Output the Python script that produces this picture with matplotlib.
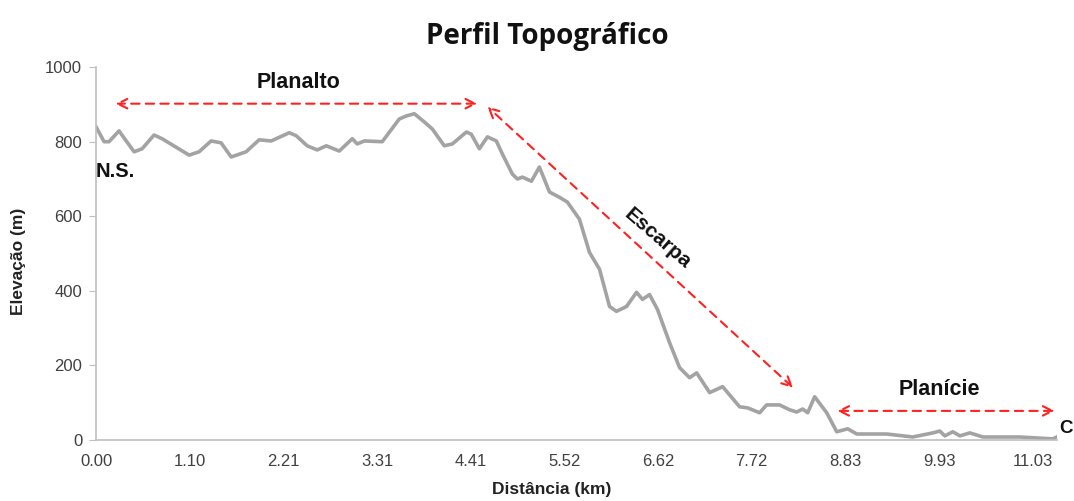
import matplotlib
matplotlib.use("Agg")
import matplotlib.pyplot as plt

distance_km = [0.000, 0.095, 0.153, 0.271, 0.448, 0.543, 0.684, 0.778, 1.097, 1.214,
               1.355, 1.473, 1.592, 1.768, 1.921, 2.063, 2.276, 2.358, 2.487, 2.605,
               2.712, 2.865, 3.018, 3.077, 3.160, 3.371, 3.572, 3.654, 3.749, 3.867,
               3.961, 4.102, 4.197, 4.362, 4.420, 4.515, 4.610, 4.715, 4.786, 4.904,
               4.963, 5.022, 5.128, 5.222, 5.341, 5.458, 5.552, 5.694, 5.812, 5.930,
               6.048, 6.130, 6.248, 6.366, 6.436, 6.519, 6.613, 6.755, 6.873, 6.991,
               7.074, 7.227, 7.380, 7.580, 7.675, 7.816, 7.898, 8.051, 8.169, 8.252,
               8.323, 8.382, 8.464, 8.606, 8.724, 8.853, 8.960, 9.313, 9.619, 9.856,
               9.938, 9.997, 10.091, 10.174, 10.292, 10.445, 10.881, 11.270, 11.316]
elevation_m = [840, 800, 800, 829, 773, 781, 818, 808, 764, 773,
               802, 797, 759, 773, 805, 802, 824, 816, 789, 778,
               789, 775, 808, 794, 802, 800, 861, 869, 875, 853,
               834, 789, 794, 826, 820, 781, 813, 802, 767, 713,
               700, 705, 694, 732, 665, 651, 638, 592, 503, 458,
               358, 345, 358, 396, 377, 390, 350, 261, 194, 167,
               180, 127, 143, 89, 86, 73, 94, 94, 81, 75,
               83, 73, 116, 73, 22, 30, 16, 16, 8, 19,
               24, 11, 22, 11, 19, 8, 8, 3, 8]

x_tick_values = [0.00, 1.10, 2.21, 3.31, 4.41, 5.52, 6.62, 7.72, 8.83, 9.93, 11.03]
x_tick_labels = ["0.00", "1.10", "2.21", "3.31", "4.41", "5.52", "6.62", "7.72", "8.83", "9.93", "11.03"]
y_tick_values = [0, 200, 400, 600, 800, 1000]

title = "Perfil Topográfico"
x_label = "Distância (km)"
y_label = "Elevação (m)"

plt.rcParams['font.family'] = ['Liberation Sans', 'DejaVu Sans']

fig = plt.figure(figsize=(10.74, 5.01), dpi=100)
ax = fig.add_axes([0.0894, 0.1218, 0.8946, 0.7442])

ax.plot(distance_km, elevation_m, color="#a3a3a3", linewidth=2.6, solid_joinstyle="round")

ax.set_xlim(0, distance_km[-1])
ax.set_ylim(0, 1000)
ax.set_xticks(x_tick_values)
ax.set_xticklabels(x_tick_labels)
ax.set_yticks(y_tick_values)

for s in ["top", "right"]:
    ax.spines[s].set_visible(False)
for s in ["left", "bottom"]:
    ax.spines[s].set_color("#bfbfbf")
    ax.spines[s].set_linewidth(1.2)

ax.tick_params(axis="x", length=0, pad=10, labelsize=12, labelcolor="#404040")
ax.tick_params(axis="y", length=5, color="#bfbfbf", pad=5, labelsize=12, labelcolor="#404040")

ax.set_xlabel(x_label, fontsize=12.5, fontweight="bold", color="#222222")
ax.set_ylabel(y_label, fontsize=12.5, fontweight="bold", color="#222222")
ax.xaxis.set_label_coords(0.474, -0.112)
ax.yaxis.set_label_coords(-0.073, 0.48)

fig.text(0.510, 0.928, title, ha="center", va="center", fontsize=20,
         fontweight="bold", family=["Open Sans", "DejaVu Sans"], color="#111111")

arrow_kw = dict(arrowstyle="<->", color="#ff2020", lw=1.5, linestyle=(0, (4, 3)),
                mutation_scale=17, shrinkA=0, shrinkB=0)

# Planalto
ax.annotate("", xy=(0.23, 902), xytext=(4.49, 902), arrowprops=arrow_kw)
ax.text(2.39, 958, "Planalto", ha="center", va="center", fontsize=15.5, fontweight="bold", color="#111111")

# Escarpa
ax.annotate("", xy=(4.61, 894), xytext=(8.21, 140), arrowprops=arrow_kw)
ax.text(6.61, 540, "Escarpa", ha="center", va="center", fontsize=15, fontweight="bold",
        color="#111111", rotation=-41, rotation_mode="anchor")

# Planície
ax.annotate("", xy=(8.73, 78), xytext=(11.29, 78), arrowprops=arrow_kw)
ax.text(9.93, 135, "Planície", ha="center", va="center", fontsize=15.5, fontweight="bold", color="#111111")

ax.text(0.0, 721, "N.S.", ha="left", va="center", fontsize=14.5, fontweight="bold", color="#111111")
ax.text(11.43, 32, "C", ha="center", va="center", fontsize=13.5, fontweight="bold",
        color="#111111", clip_on=False)

fig.savefig("out.png", dpi=100)
